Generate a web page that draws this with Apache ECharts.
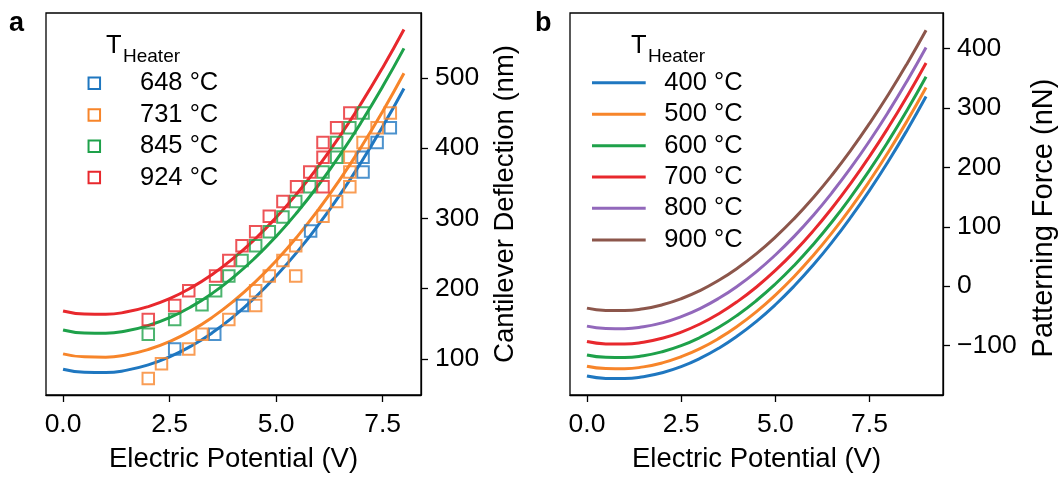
<!DOCTYPE html>
<html>
<head>
<meta charset="utf-8">
<script src="https://cdn.jsdelivr.net/npm/echarts@6/dist/echarts.min.js"></script>
<style>
  html, body { margin: 0; padding: 0; background: #fff; }
  #chart { width: 1059px; height: 478px; }
</style>
</head>
<body>
<div id="chart"></div>
<script>
// ---------- Panel a: cantilever deflection vs. electric potential ----------
const tempsA = ['648 °C', '731 °C', '845 °C', '924 °C'];
const fitVoltsA = [0, 0.5, 1, 1.5, 2, 2.5, 3, 3.5, 4, 4.5, 5, 5.5, 6, 6.5, 7, 7.5, 8];
const fitA648 = [85.0, 80.7, 80.3, 83.8, 91.2, 102.6, 117.8, 136.9, 160.0, 186.9, 217.8, 252.5, 291.2, 333.7, 380.2, 430.6, 484.9];
const fitA731 = [107.0, 102.7, 102.3, 105.8, 113.2, 124.5, 139.8, 158.9, 181.9, 208.8, 239.6, 274.3, 312.9, 355.4, 401.8, 452.1, 506.4];
const fitA845 = [141.0, 136.7, 136.3, 139.8, 147.3, 158.6, 173.9, 193.1, 216.2, 243.2, 274.1, 309.0, 347.7, 390.4, 437.0, 487.5, 541.9];
const fitA924 = [168.0, 163.7, 163.3, 166.8, 174.3, 185.6, 200.9, 220.1, 243.2, 270.2, 301.1, 336.0, 374.7, 417.4, 464.0, 514.5, 568.9];

// measured points [V, nm]
const measA648 = [[2.62, 114], [3.56, 135], [4.21, 176], [5.81, 282], [7.04, 366], [7.04, 387], [7.37, 408], [7.68, 429]];
const measA731 = [[2.0, 72], [2.31, 93], [2.95, 114], [3.26, 135], [3.89, 156], [4.52, 176], [4.52, 197], [4.84, 218],
                  [5.16, 240], [5.46, 261], [5.46, 218], [6.10, 303], [6.42, 324], [6.73, 345], [6.73, 366], [6.73, 387],
                  [7.04, 408], [7.37, 429], [7.68, 450]];
const measA845 = [[2.0, 135], [2.62, 156], [3.26, 177], [3.58, 197], [3.89, 218], [4.20, 240], [4.52, 261], [4.84, 281],
                  [5.16, 302], [5.46, 324], [5.79, 345], [6.10, 366], [6.42, 387], [6.42, 408], [6.73, 429], [7.04, 450]];
const measA924 = [[2.0, 156], [2.62, 176], [2.95, 197], [3.58, 218], [3.89, 240], [4.20, 261], [4.52, 281], [4.84, 303],
                  [5.16, 324], [5.48, 345], [5.79, 366], [6.10, 345], [6.10, 387], [6.10, 408], [6.42, 429], [6.73, 450]];

const xTicksA = [0, 2.5, 5, 7.5];
const yTicksA = [100, 200, 300, 400, 500];

// ---------- Panel b: patterning force vs. electric potential ----------
const tempsB = ['400 °C', '500 °C', '600 °C', '700 °C', '800 °C', '900 °C'];
const voltsB = [0, 0.5, 1, 1.5, 2, 2.5, 3, 3.5, 4, 4.5, 5, 5.5, 6, 6.5, 7, 7.5, 8, 8.5, 9];
const forceB400 = [-151.5, -155.4, -155.7, -152.5, -145.8, -135.6, -121.8, -104.5, -83.6, -59.2, -31.3, 0.2, 35.2, 73.7, 115.8, 161.4, 210.5, 263.2, 319.4];
const forceB500 = [-134.9, -138.8, -139.1, -136.0, -129.3, -119.0, -105.3, -88.0, -67.2, -42.9, -15.0, 16.3, 51.2, 89.7, 131.6, 177.1, 226.1, 278.6, 334.6];
const forceB600 = [-116.1, -120.0, -120.3, -117.2, -110.5, -100.3, -86.5, -69.3, -48.5, -24.2, 3.6, 34.9, 69.8, 108.1, 150.0, 195.4, 244.4, 296.8, 352.8];
const forceB700 = [-93.4, -97.3, -97.6, -94.5, -87.8, -77.5, -63.8, -46.5, -25.7, -1.4, 26.5, 57.8, 92.7, 131.2, 173.1, 218.6, 267.6, 320.1, 376.1];
const forceB800 = [-67.4, -71.3, -71.6, -68.5, -61.8, -51.5, -37.8, -20.5, 0.3, 24.6, 52.5, 83.8, 118.7, 157.2, 199.1, 244.6, 293.6, 346.1, 402.1];
const forceB900 = [-37.0, -40.9, -41.2, -38.1, -31.4, -21.2, -7.5, 9.8, 30.5, 54.7, 82.5, 113.8, 148.6, 186.9, 228.7, 274.1, 322.9, 375.3, 431.2];

const xTicksB = [0, 2.5, 5, 7.5];
const yTicksB = [-100, 0, 100, 200, 300, 400];

// ---------- styling ----------
const palette = ['#1f77c0', '#f7852a', '#1ea14a', '#e8282d', '#9268bb', '#8c564b'];
const FONT = '"Liberation Sans", Arial, Helvetica, sans-serif';

const fitsA = [fitA648, fitA731, fitA845, fitA924];
const measA = [measA648, measA731, measA845, measA924];
const forcesB = [forceB400, forceB500, forceB600, forceB700, forceB800, forceB900];

const pairs = (xs, ys) => xs.map((x, i) => [x, ys[i]]);
const fmtTick = v => (v < 0 ? '\u2212' + Math.abs(v) : String(v));

const series = [];
tempsA.forEach((t, i) => {
  series.push({
    name: t, type: 'scatter', xAxisIndex: 0, yAxisIndex: 0,
    data: measA[i], symbol: 'rect', symbolSize: 11.5,
    itemStyle: { color: 'rgba(0,0,0,0)', borderColor: palette[i], borderWidth: 2 },
    z: 3
  });
  series.push({
    name: t + ' fit', type: 'line', xAxisIndex: 0, yAxisIndex: 0,
    data: pairs(fitVoltsA, fitsA[i]), smooth: true, showSymbol: false,
    lineStyle: { color: palette[i], width: 3 }, z: 2
  });
});
tempsB.forEach((t, i) => {
  series.push({
    name: t, type: 'line', xAxisIndex: 1, yAxisIndex: 1,
    data: pairs(voltsB, forcesB[i]), smooth: true, showSymbol: false,
    lineStyle: { color: palette[i], width: 3 }, z: 2
  });
});

function xAxisCfg(grid, min, max, ticks) {
  return {
    gridIndex: grid, type: 'value', min: min, max: max,
    axisLine: { show: true, onZero: false, lineStyle: { color: '#000', width: 1.3 } },
    axisTick: { show: true, customValues: ticks, length: 7, lineStyle: { color: '#000', width: 1.3 } },
    axisLabel: { customValues: ticks, formatter: v => v.toFixed(1), fontSize: 26.5, color: '#000', margin: 16, fontFamily: FONT },
    splitLine: { show: false },
    name: 'Electric Potential (V)', nameLocation: 'middle', nameGap: 50,
    nameTextStyle: { fontSize: 27.5, color: '#000', fontFamily: FONT }
  };
}
function yAxisCfg(grid, min, max, ticks, name, gap, size, pad) {
  return {
    gridIndex: grid, type: 'value', position: 'right', min: min, max: max,
    axisLine: { show: true, onZero: false, lineStyle: { color: '#000', width: 1.3 } },
    axisTick: { show: true, customValues: ticks, length: 7, lineStyle: { color: '#000', width: 1.3 } },
    axisLabel: { customValues: ticks, formatter: fmtTick, fontSize: 26.5, color: '#000', margin: 14, fontFamily: FONT },
    splitLine: { show: false },
    name: name, nameLocation: 'middle', nameRotate: 90, nameGap: gap,
    nameTextStyle: { fontSize: size, color: '#000', fontFamily: FONT, padding: pad }
  };
}

// legend drawn as graphic elements
const graphic = [];
const txt = (text, x, y, size, weight) => ({
  type: 'text', x: x, y: y, silent: true,
  style: { text: text, fill: '#000', font: (weight || 'normal') + ' ' + size + 'px ' + FONT, align: 'left', verticalAlign: 'middle' }
});
graphic.push(txt('a', 9, 24, 27, 'bold'));
graphic.push(txt('b', 535, 24, 27, 'bold'));

// panel a legend
graphic.push(txt('T', 106, 46, 25.5));
graphic.push(txt('Heater', 123, 57, 19));
const rowsA = [83.3, 115, 146.2, 177.5];
tempsA.forEach((t, i) => {
  graphic.push({
    type: 'rect', silent: true,
    shape: { x: 94.3 - 5.75, y: rowsA[i] - 5.75, width: 11.5, height: 11.5 },
    style: { fill: 'none', stroke: palette[i], lineWidth: 2 }
  });
  graphic.push(txt(t, 140, rowsA[i], 25.5));
});

// panel b legend
graphic.push(txt('T', 631, 46, 25.5));
graphic.push(txt('Heater', 648, 57, 19));
const rowsB = [82.7, 114.3, 145.7, 177, 208.3, 240];
tempsB.forEach((t, i) => {
  graphic.push({
    type: 'line', silent: true,
    shape: { x1: 592, y1: rowsB[i], x2: 645.7, y2: rowsB[i] },
    style: { stroke: palette[i], lineWidth: 3 }
  });
  graphic.push(txt(t, 664.3, rowsB[i], 25.5));
});

const chart = echarts.init(document.getElementById('chart'), null, { renderer: 'canvas' });
chart.setOption({
  animation: false,
  backgroundColor: '#fff',
  textStyle: { fontFamily: FONT },
  grid: [
    { left: 46, top: 13, width: 375, height: 387, show: true, borderColor: '#000', borderWidth: 1.3, backgroundColor: 'transparent' },
    { left: 570, top: 13, width: 377, height: 388, show: true, borderColor: '#000', borderWidth: 1.3, backgroundColor: 'transparent' }
  ],
  xAxis: [
    xAxisCfg(0, -0.4, 8.4, xTicksA),
    xAxisCfg(1, -0.45, 9.45, xTicksB)
  ],
  yAxis: [
    yAxisCfg(0, 48.4, 592.3, yTicksA, 'Cantilever Deflection (nm)', 70, 27.5, 0),
    yAxisCfg(1, -183.4, 460.2, yTicksB, 'Patterning Force (nN)', 86, 29, [0, 28, 0, 0])
  ],
  series: series,
  graphic: graphic
});
</script>
</body>
</html>
